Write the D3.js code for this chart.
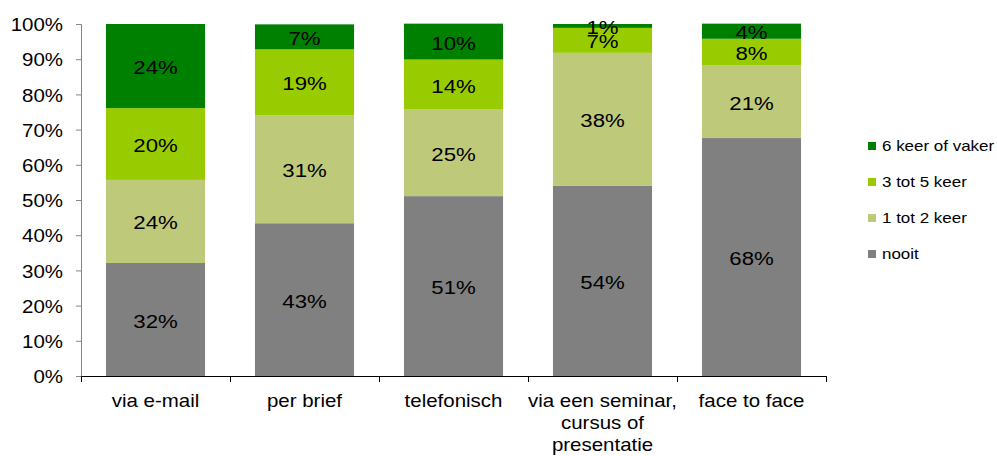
<!DOCTYPE html>
<html><head><meta charset="utf-8">
<script src="https://cdn.jsdelivr.net/npm/d3@7"></script>
<style>body{margin:0;background:#fff}svg{display:block}text{font-family:"Liberation Sans",Arial,sans-serif;fill:#000}</style>
</head><body><svg id="c" width="997" height="456"></svg>
<script>
const categories = ["via e-mail", "per brief", "telefonisch", "via een seminar,\ncursus of\npresentatie", "face to face"];
const seriesNames = ["nooit", "1 tot 2 keer", "3 tot 5 keer", "6 keer of vaker"];
const nooit = [32.1, 43.4, 51.1, 54.0, 67.6];
const keer1tot2 = [23.6, 30.6, 24.6, 37.8, 20.6];
const keer3tot5 = [20.4, 18.8, 14.2, 7.1, 7.6];
const keer6plus = [23.9, 7.1, 10.2, 1.1, 4.3];
const yTicks = [0, 10, 20, 30, 40, 50, 60, 70, 80, 90, 100];
const colors = ["#808080", "#BFC97A", "#99CC00", "#008000"];

const seriesVals = [nooit, keer1tot2, keer3tot5, keer6plus];
const rows = categories.map((c, i) => {
  const r = {cat: c};
  seriesNames.forEach((s, j) => r[s] = seriesVals[j][i]);
  return r;
});
const svg = d3.select("#c");
const SX = 1.17;
function stretch(sel) {
  sel.each(function() {
    const t = d3.select(this);
    const x = +t.attr("x") || 0, y = +t.attr("y") || 0;
    t.attr("x", 0).attr("y", 0).attr("transform", `translate(${x},${y}) scale(${SX},1)`);
  });
}
const L = 81, R = 826, T = 24, B = 376;
const x = d3.scaleBand().domain(categories).range([L, R]).paddingInner(0.335).paddingOuter(0.1675);
const y = d3.scaleLinear().domain([0, 100]).range([B, T]);
const stack = d3.stack().keys(seriesNames)(rows);

const g = svg.append("g");
stack.forEach((layer, j) => {
  g.selectAll(null).data(layer).enter().append("rect")
    .attr("x", d => x(d.data.cat)).attr("width", x.bandwidth())
    .attr("y", d => y(d[1])).attr("height", d => y(d[0]) - y(d[1]))
    .attr("fill", colors[j]);
});
stack.forEach((layer, j) => {
  g.selectAll(null).data(layer).enter().append("text")
    .attr("x", d => x(d.data.cat) + x.bandwidth() / 2)
    .attr("y", d => (y(d[0]) + y(d[1])) / 2 + 8)
    .attr("text-anchor", "middle").style("font-size", "19px")
    .text(d => Math.round(d[1] - d[0]) + "%")
    .call(stretch);
});

// y axis
const ya = svg.append("g").attr("transform", `translate(${L},0)`)
  .call(d3.axisLeft(y).tickValues(yTicks).tickSize(5).tickPadding(13).tickFormat(d => d + "%"));
ya.select(".domain").attr("stroke", "#868686").attr("d", `M-5,${T}.5H0.5V${B}`);
ya.selectAll(".tick line").attr("stroke", "#868686");
ya.selectAll(".tick text").style("font-size", "17.5px").attr("dy", "0.38em").style("font-family", '"Liberation Sans",Arial,sans-serif').attr("fill", "#000");
ya.selectAll(".tick text").each(function() {
  d3.select(this).attr("x", 0).attr("transform", `translate(-18,0) scale(${SX},1)`);
});

// x axis
const xa = svg.append("g").attr("transform", `translate(0,${B})`);
xa.append("line").attr("x1", L).attr("x2", R).attr("y1", 0.5).attr("y2", 0.5).attr("stroke", "#000");
const bounds = d3.range(categories.length + 1).map(i => L + i * (R - L) / categories.length);
xa.selectAll(null).data(bounds).enter().append("line")
  .attr("x1", d => Math.round(d) + 0.5).attr("x2", d => Math.round(d) + 0.5)
  .attr("y1", 0).attr("y2", 6).attr("stroke", "#000");
categories.forEach(c => {
  const lines = c.split("\n");
  lines.forEach((ln, k) => {
    xa.append("text").attr("x", x(c) + x.bandwidth() / 2).attr("y", 31 + k * 22)
      .attr("text-anchor", "middle").style("font-size", "17.5px").text(ln).call(stretch);
  });
});

// legend
const legendOrder = seriesNames.slice().reverse();
const lg = svg.append("g");
legendOrder.forEach((s, i) => {
  const cy = 146 + i * 36;
  lg.append("rect").attr("x", 868).attr("y", cy - 4).attr("width", 8).attr("height", 8)
    .attr("fill", colors[seriesNames.indexOf(s)]);
  lg.append("text").attr("x", 882).attr("y", cy + 5).style("font-size", "14.5px").text(s).call(stretch);
});
</script></body></html>
